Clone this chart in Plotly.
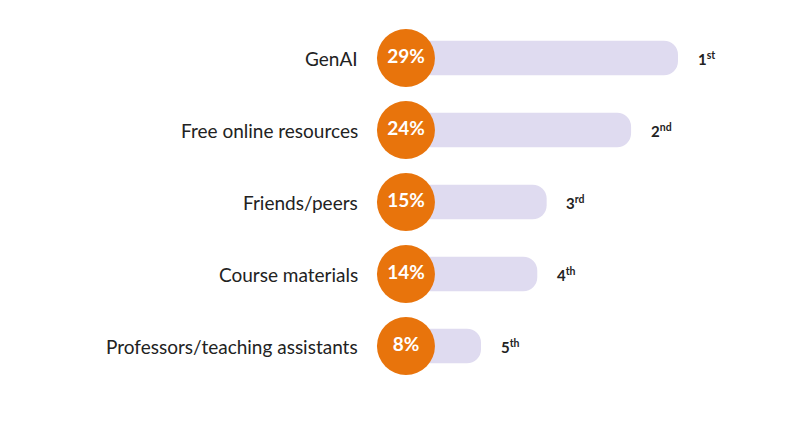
import plotly.graph_objects as go

categories = ["GenAI", "Free online resources", "Friends/peers", "Course materials", "Professors/teaching assistants"]
values = [29, 24, 15, 14, 8]
ranks = ["1<sup>st</sup>", "2<sup>nd</sup>", "3<sup>rd</sup>", "4<sup>th</sup>", "5<sup>th</sup>"]

ypos = list(range(len(categories)))[::-1]
font = "Lato"

fig = go.Figure()
fig.add_trace(go.Bar(x=values, y=ypos, orientation="h", width=0.48,
                     marker=dict(color="#DFDBF0", line=dict(width=0)), hoverinfo="skip"))
fig.add_trace(go.Scatter(x=[0]*len(values), y=ypos, mode="markers+text",
                         marker=dict(size=58, color="#E8740C", line=dict(width=0)),
                         text=[f"{v}%" for v in values], textposition="middle center",
                         textfont=dict(family=font, size=19, color="white", weight="bold"),
                         hoverinfo="skip"))
for c, v, r, y in zip(categories, values, ranks, ypos):
    fig.add_annotation(x=-0.015, y=y, xref="paper", yref="y", text=c, showarrow=False,
                       xanchor="right", font=dict(family=font, size=19, color="#222"))
    fig.add_annotation(x=v + 1.9, y=y, xref="x", yref="y", text=r, showarrow=False,
                       xanchor="left", font=dict(family=font, size=15, color="#222", weight="bold"))

fig.update_layout(width=799, height=432, margin=dict(l=358, r=46, t=14, b=58),
                  plot_bgcolor="white", paper_bgcolor="white", showlegend=False,
                  barcornerradius=14,
                  xaxis=dict(range=[-4.26, 37.85], visible=False),
                  yaxis=dict(range=[-0.5, 4.5], visible=False))
fig.write_html("out.html")
